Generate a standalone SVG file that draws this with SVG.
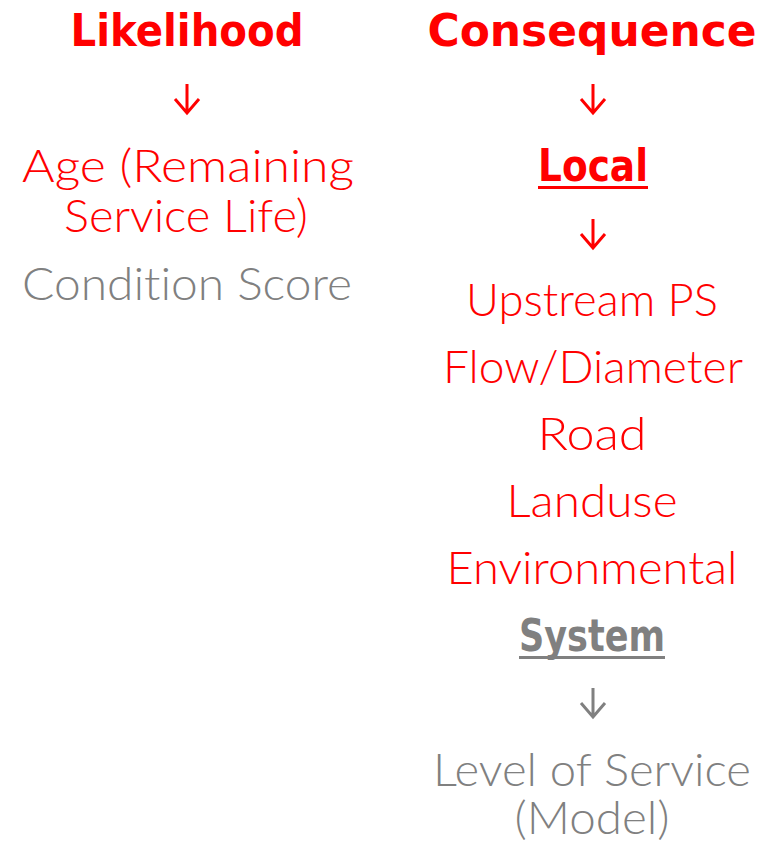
<svg xmlns="http://www.w3.org/2000/svg" width="777" height="844" viewBox="0 0 777 844">
  <style>
    text { font-family: "Lato", "DejaVu Sans", sans-serif; font-weight: 300; font-size: 46px; text-anchor: middle; font-variant-ligatures: none; }
    .red { fill: #ff0000; }
    .grey { fill: #808080; }
    text.bold { font-family: "DejaVu Sans", "Liberation Sans", sans-serif; font-weight: bold; font-size: 44px; }
    .arrow { fill: none; stroke-width: 3; stroke-linecap: butt; stroke-linejoin: miter; }
    .arrow.red { stroke: #ff0000; fill: none; }
    .arrow.grey { stroke: #808080; fill: none; }
  </style>
  <rect width="777" height="844" fill="#ffffff"/>

  <!-- down arrows between levels -->
  <g id="connectors">
    <path class="arrow red" d="M187 84 V112 M175 99 L187 113 L199 99"/>
    <path class="arrow red" d="M593 84 V112 M581 99 L593 113 L605 99"/>
    <path class="arrow red" d="M593 219 V247 M581 234 L593 248 L605 234"/>
    <path class="arrow grey" d="M593 688 V716 M581 703 L593 717 L605 703"/>
  </g>

  <!-- likelihood column -->
  <g id="likelihood">
    <text class="red bold" x="187" y="46" textLength="233" lengthAdjust="spacingAndGlyphs">Likelihood</text>
  </g>
  <g id="age">
    <text class="red" x="188" y="182" textLength="332" lengthAdjust="spacingAndGlyphs">Age (Remaining</text>
    <text class="red" x="186" y="232" textLength="244" lengthAdjust="spacingAndGlyphs">Service Life)</text>
  </g>
  <g id="condition-score">
    <text class="grey" x="187" y="300" textLength="330" lengthAdjust="spacingAndGlyphs">Condition Score</text>
  </g>

  <!-- consequence column -->
  <g id="consequence">
    <text class="red bold" x="592" y="46" textLength="329" lengthAdjust="spacingAndGlyphs">Consequence</text>
  </g>
  <g id="local">
    <text class="red bold" x="593" y="181" textLength="110" lengthAdjust="spacingAndGlyphs">Local</text>
    <rect class="red" x="538" y="186" width="110" height="3"/>
  </g>
  <g id="upstream-ps">
    <text class="red" x="592" y="316" textLength="252" lengthAdjust="spacingAndGlyphs">Upstream PS</text>
  </g>
  <g id="flow-diameter">
    <text class="red" x="593" y="383" textLength="300" lengthAdjust="spacingAndGlyphs">Flow/Diameter</text>
  </g>
  <g id="road">
    <text class="red" x="592" y="450" textLength="109" lengthAdjust="spacingAndGlyphs">Road</text>
  </g>
  <g id="landuse">
    <text class="red" x="592" y="517" textLength="171" lengthAdjust="spacingAndGlyphs">Landuse</text>
  </g>
  <g id="environmental">
    <text class="red" x="592" y="584" textLength="291" lengthAdjust="spacingAndGlyphs">Environmental</text>
  </g>
  <g id="system">
    <text class="grey bold" x="592" y="651" textLength="146" lengthAdjust="spacingAndGlyphs">System</text>
    <rect class="grey" x="519" y="656" width="146" height="3"/>
  </g>
  <g id="level-of-service">
    <text class="grey" x="592" y="786" textLength="318" lengthAdjust="spacingAndGlyphs">Level of Service</text>
    <text class="grey" x="592" y="834" textLength="155" lengthAdjust="spacingAndGlyphs">(Model)</text>
  </g>
</svg>
